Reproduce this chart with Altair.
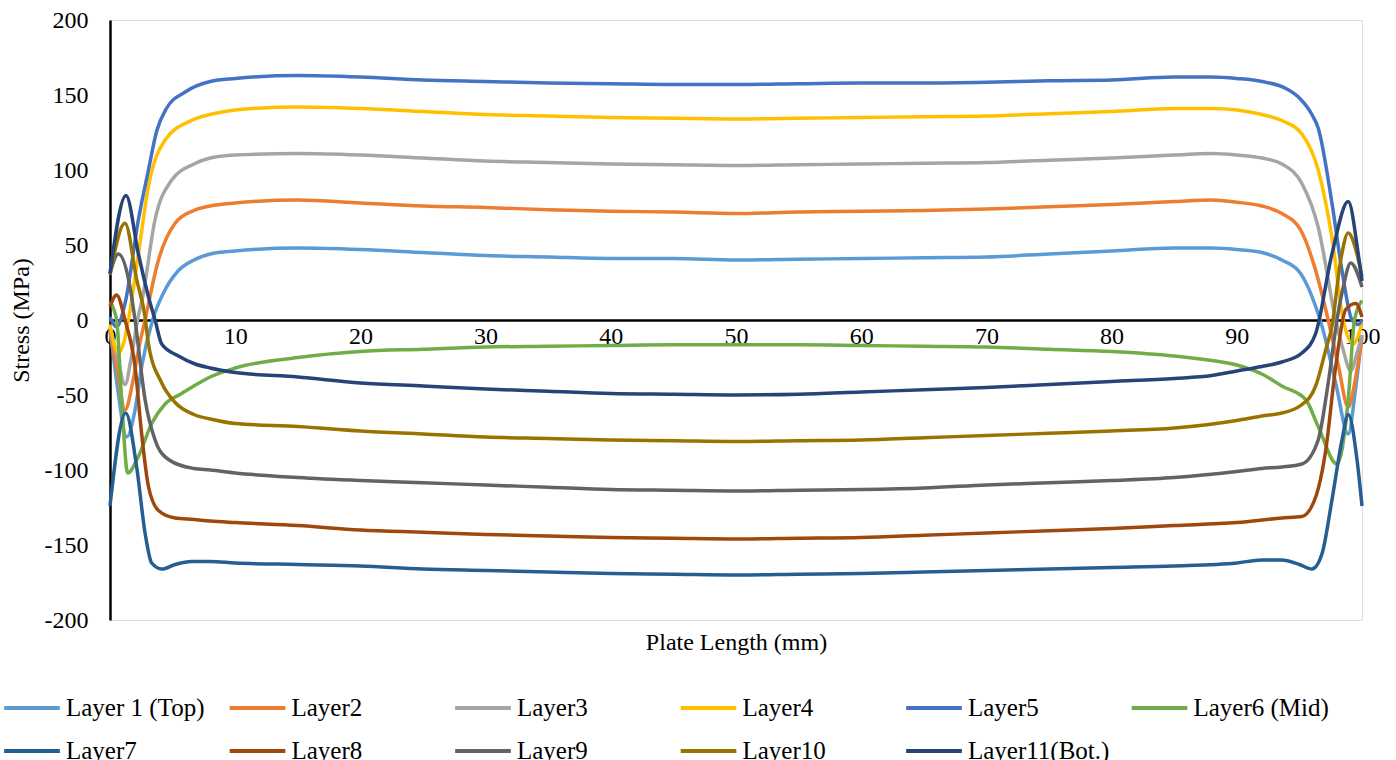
import altair as alt
import pandas as pd

# Series names (legend order) and Office-style colours
LAYERS = ["Layer 1 (Top)", "Layer2", "Layer3", "Layer4", "Layer5", "Layer6 (Mid)",
          "Layer7", "Layer8", "Layer9", "Layer10", "Layer11(Bot.)"]
COLORS = ["#5B9BD5", "#ED7D31", "#A5A5A5", "#FFC000", "#4472C4", "#70AD47",
          "#255E91", "#9E480E", "#636363", "#997300", "#264478"]

# Stress (MPa) along the plate length (mm), one pair of arrays per layer
L1_X = [0, 0.6, 1.33, 2.0, 2.53, 3.4, 4.27, 5.47, 6.7, 8, 10, 15, 20, 25, 30, 35, 40, 45, 50,
        55, 60, 65, 70, 75, 80, 85, 88, 90, 92, 93.6, 95.1, 96.3, 96.8, 97.9, 98.9, 99.5, 100]
L1_Y = [-5, -45, -78, -60, -31, 0, 18, 33, 40, 44, 46, 48, 47, 45, 43, 42, 41, 41, 40,
        40.5, 41, 41.5, 42, 44, 46, 48, 48, 47, 45, 40, 31, 9, -4, -42, -76, -45, -10]

L2_X = [0, 0.6, 1.2, 1.8, 2.27, 2.8, 3.87, 5.2, 6.7, 8, 10, 15, 20, 25, 30, 35, 40, 45, 50,
        55, 60, 65, 70, 75, 80, 85, 88, 90, 92, 93.6, 95.1, 96.3, 97.3, 98.1, 98.9, 99.5, 100]
L2_Y = [-8, -35, -60, -42, -20, 0, 40, 64.5, 73, 76, 78, 80, 78, 76, 75, 73.5, 72.5, 72, 71,
        72, 72.5, 73, 74, 75.5, 77, 79, 80, 78.5, 76, 71, 60, 33, 0, -30, -58, -38, -12]

L3_X = [0, 0.6, 1.2, 1.7, 2.2, 2.6, 3.6, 4.9, 6.7, 8, 10, 15, 20, 25, 30, 35, 40, 45, 50,
        55, 60, 65, 70, 75, 80, 85, 88, 90, 92, 93.6, 95.2, 96.5, 97.9, 98.5, 99.1, 99.6, 100]
L3_Y = [-5, -25, -43, -25, 0, 15, 67, 93, 104, 108, 110, 111, 110, 108, 106, 105, 104, 103.5, 103,
        103.5, 104, 104.5, 105, 106.5, 108, 110, 111, 110, 108, 104, 91, 62, 0, -20, -34, -22, -10]

L4_X = [0, 0.67, 1.1, 1.47, 2.27, 3.07, 4.4, 6.5, 8, 10, 15, 20, 25, 30, 35, 40, 45, 50,
        55, 60, 65, 70, 75, 80, 85, 88, 90, 92, 93.6, 95.2, 96.5, 97.6, 98.5, 99.3, 100]
L4_Y = [-3, -22, -15, 0, 44, 89, 120, 133, 137, 140, 142, 141, 139, 137, 136, 135, 134.5, 134,
        134.5, 135, 135.5, 136, 137.5, 139, 141, 141, 140, 137, 133, 124, 100, 55, 0, -16, -2]

L5_X = [0, 0.53, 1.2, 2.27, 3.07, 3.73, 4.5, 6, 8, 10, 15, 20, 25, 30, 35, 40, 45, 50,
        55, 60, 65, 70, 75, 80, 85, 88, 90, 92, 94, 95, 96, 96.5, 97.6, 98.4, 99.2, 99.7, 100]
L5_Y = [2, -4.5, 11, 67, 100, 126, 141, 152, 159, 161, 163, 162, 160, 159, 158, 157.5, 157, 157,
        157.5, 158, 158, 158.5, 159.5, 160, 162, 162, 161, 159, 154, 148, 137, 128, 78, 33, 0, -3, 0]

L6_X = [0, 0.53, 0.93, 1.41, 2.27, 3.33, 4.4, 5.73, 6.7, 8, 10, 15, 20, 25, 30, 35, 40, 45, 50,
        55, 60, 65, 70, 75, 80, 85, 88, 90, 92, 93.6, 95.5, 96.5, 98, 98.9, 99.4, 100]
L6_Y = [12, 0, -53, -102, -91, -69, -56, -49, -44, -38, -32, -25, -21, -19.5, -18, -17.5, -17, -16.5, -16.5,
        -16.5, -17, -17.5, -18, -19.5, -21, -24, -27, -30, -36, -44, -53, -71, -96, -53, 0, 13]

L7_X = [0, 1.25, 2.13, 2.8, 3.33, 4.13, 5.2, 6.5, 8, 10, 15, 20, 25, 30, 35, 40, 45, 50,
        55, 60, 65, 70, 75, 80, 85, 90, 92, 93.6, 95, 96, 96.8, 97.6, 98.4, 98.9, 99.6, 100]
L7_Y = [-124, -62, -98, -142, -162, -166, -163, -161, -161, -162, -163, -164, -166, -167, -168, -169, -169.5, -170,
        -169.5, -169, -168, -167, -166, -165, -164, -162, -160, -160, -163, -166, -156, -120, -80, -63, -93, -124]

L8_X = [0, 0.53, 1.2, 2.0, 2.53, 3.07, 3.87, 5.2, 6.7, 8, 10, 15, 20, 25, 30, 35, 40, 45, 50,
        55, 60, 65, 70, 75, 80, 85, 90, 93.6, 95.2, 96.3, 97.1, 97.9, 98.7, 99.5, 100]
L8_Y = [9, 16.7, 0, -31, -76, -111, -127, -132, -133, -134, -135, -137, -140, -141.5, -143, -144, -145, -145.5, -146,
        -145.5, -145, -143.5, -142, -140.5, -139, -137, -135, -132, -131, -118, -87, -31, 7, 11, 2]

L9_X = [0, 0.67, 1.6, 2.0, 2.8, 3.6, 4.67, 6.7, 8, 10, 15, 20, 25, 30, 35, 40, 45, 50,
        55, 60, 65, 70, 75, 80, 85, 90, 92, 93.6, 95.2, 96.5, 97.3, 98, 98.5, 99.1, 100]
L9_Y = [31, 44, 22, 0, -53, -80, -93, -99, -100, -102, -105, -107, -108.5, -110, -111.5, -113, -113.5, -114,
        -113.5, -113, -112, -110, -108.5, -107, -105, -101, -99, -98, -96, -80, -42, 0, 22, 38, 22]

L10_X = [0, 1.2, 2.13, 2.8, 3.07, 4.13, 5.2, 6.7, 8, 10, 15, 20, 25, 30, 35, 40, 45, 50,
         55, 60, 65, 70, 75, 80, 85, 90, 92, 93.6, 95.1, 96.3, 97.1, 97.6, 98.3, 98.9, 99.6, 100]
L10_Y = [30, 64.5, 27, 2, -16, -42, -55, -63, -66, -69, -71, -74, -76, -78, -79, -80, -80.5, -81,
         -80.5, -80, -78.5, -77, -75.5, -74, -72, -67, -64, -62, -57, -44, -20, -4, 40, 58, 44, 29]

L11_X = [0, 1.28, 2.27, 3.07, 3.6, 4.13, 5.47, 6.7, 8, 10, 15, 20, 25, 30, 35, 40, 45, 50,
         55, 60, 65, 70, 75, 80, 85, 88, 90, 92, 93.6, 95.2, 96.3, 97.6, 98.9, 99.7, 100]
L11_Y = [31, 83, 44, 15.5, 0, -16, -24, -29, -32, -35, -38, -42, -44, -46, -47.5, -49, -49.5, -50,
         -49.5, -48, -46.5, -45, -43, -41, -39, -37, -34, -31, -28, -22, -9, 44, 79, 44, 26]

X_TICKS = [0, 10, 20, 30, 40, 50, 60, 70, 80, 90, 100]
Y_TICKS = [-200, -150, -100, -50, 0, 50, 100, 150, 200]

SERIES = [(L1_X, L1_Y), (L2_X, L2_Y), (L3_X, L3_Y), (L4_X, L4_Y), (L5_X, L5_Y), (L6_X, L6_Y),
          (L7_X, L7_Y), (L8_X, L8_Y), (L9_X, L9_Y), (L10_X, L10_Y), (L11_X, L11_Y)]

rows = []
for idx, (name, (xs, ys)) in enumerate(zip(LAYERS, SERIES)):
    for x, y in zip(xs, ys):
        rows.append({"layer": name, "idx": idx, "length": x, "stress": y})
df = pd.DataFrame(rows)

FONT = "Liberation Serif"
# plain hyphen-minus for negative tick labels
PLAIN_NUMBER = "'' + datum.value"

lines = alt.Chart(df).mark_line(strokeWidth=3.5, interpolate="monotone").encode(
    x=alt.X("length:Q",
            scale=alt.Scale(domain=[0, 100], nice=False, zero=False),
            axis=alt.Axis(values=X_TICKS, offset=-300, grid=False, ticks=False, tickSize=0,
                          domainColor="black", domainWidth=2.5, labelFlush=False,
                          labelPadding=4, labelFont=FONT, labelFontSize=24, labelColor="black",
                          title="Plate Length (mm)", titleFont=FONT, titleFontSize=24,
                          titleFontWeight="normal", titleColor="black",
                          titleY=310, titleBaseline="top")),
    y=alt.Y("stress:Q",
            scale=alt.Scale(domain=[-200, 200], nice=False),
            axis=alt.Axis(values=Y_TICKS, grid=False, ticks=False, tickSize=0,
                          domainColor="black", domainWidth=2.5, labelExpr=PLAIN_NUMBER,
                          labelPadding=22, labelFont=FONT, labelFontSize=24, labelColor="black",
                          title="Stress (MPa)", titleFont=FONT, titleFontSize=24,
                          titleFontWeight="normal", titleColor="black",
                          titleX=-77, titleBaseline="bottom")),
    color=alt.Color("layer:N",
                    scale=alt.Scale(domain=LAYERS, range=COLORS),
                    legend=alt.Legend(title=None, orient="none", legendX=-108, legendY=658,
                                      columns=6, direction="horizontal", gridAlign="all",
                                      symbolType="stroke", symbolSize=3100, symbolStrokeWidth=4,
                                      labelFont=FONT, labelFontSize=25, labelColor="black",
                                      labelOffset=4, columnPadding=13.5, rowPadding=0,
                                      labelLimit=300)),
    order=alt.Order("length:Q"),
    detail="idx:N",
)

chart = lines.properties(
    width=1252, height=600,
    autosize=alt.AutoSizeParams(type="none"),
    padding={"left": 110, "top": 20, "right": 34, "bottom": 140},
).configure_view(stroke=None).configure(background="white")

chart.save("out.html", embed_options={"renderer": "svg", "actions": False})
